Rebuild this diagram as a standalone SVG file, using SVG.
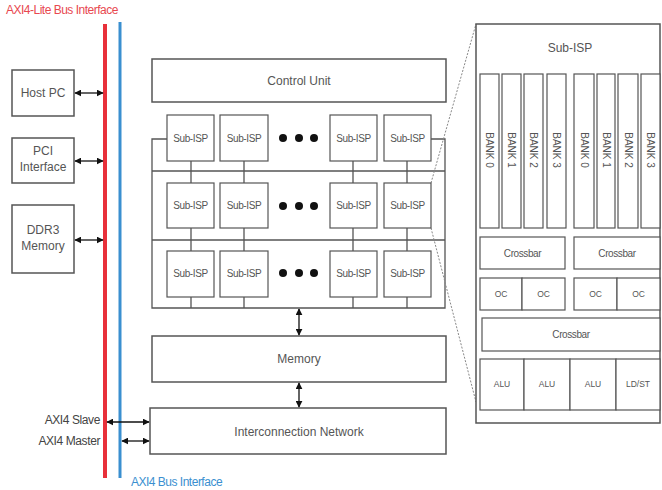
<svg xmlns="http://www.w3.org/2000/svg" width="662" height="490" viewBox="0 0 662 490">
<defs>
<marker id="ah" viewBox="0 0 10 10" refX="9" refY="5" markerWidth="7" markerHeight="7" markerUnits="userSpaceOnUse" orient="auto-start-reverse">
<path d="M0,0 L10,5 L0,10 z" fill="#111"/>
</marker>
<style>
.box{fill:#fff;stroke:#555;stroke-width:1.5}
.thin{fill:#fff;stroke:#555;stroke-width:1.2}
.ln{stroke:#555;stroke-width:1.3;fill:none}
.arr{stroke:#111;stroke-width:1.3;fill:none;marker-start:url(#ah);marker-end:url(#ah)}
.t{font-family:"Liberation Sans",Arial,sans-serif;fill:#555;text-anchor:middle}
.t12{font-size:12px}
.t10{font-size:10px;letter-spacing:-0.4px}
.t9{font-size:8.5px}
.tb{font-size:10px}
.dash{stroke:#888;stroke-width:1;stroke-dasharray:2,1.5;fill:none}
</style>
</defs>
<rect width="662" height="490" fill="#fff"/>

<!-- bus lines -->
<text x="6" y="14" font-family="Liberation Sans,Arial,sans-serif" font-size="12" fill="#e8484f" letter-spacing="-0.5">AXI4-Lite Bus Interface</text>
<line x1="105" y1="24" x2="105" y2="478" stroke="#e8303a" stroke-width="4"/>
<line x1="120" y1="22" x2="120" y2="478" stroke="#3a8fd0" stroke-width="3"/>
<text x="131" y="486" font-family="Liberation Sans,Arial,sans-serif" font-size="12" fill="#3a8fd0" letter-spacing="-0.5">AXI4 Bus Interface</text>
<text x="100" y="424" font-family="Liberation Sans,Arial,sans-serif" font-size="12" fill="#444" text-anchor="end" letter-spacing="-0.4">AXI4 Slave</text>
<text x="100" y="445" font-family="Liberation Sans,Arial,sans-serif" font-size="12" fill="#444" text-anchor="end" letter-spacing="-0.4">AXI4 Master</text>

<g id="host-pc"><rect class="box" x="12" y="70" width="62" height="46"/><text class="t t12" x="43" y="97">Host PC</text></g>
<g id="pci"><rect class="box" x="12" y="138" width="62" height="45"/><text class="t t12" x="43" y="155">PCI</text><text class="t t12" x="43" y="171">Interface</text></g>
<g id="ddr3"><rect class="box" x="12" y="205" width="62" height="68"/><text class="t t12" x="43" y="234">DDR3</text><text class="t t12" x="43" y="250">Memory</text></g>

<g id="control-unit"><rect class="box" x="152" y="59" width="294" height="43"/><text class="t t12" x="299" y="85">Control Unit</text></g>
<g id="memory"><rect class="box" x="152" y="336" width="294" height="46"/><text class="t t12" x="299" y="363">Memory</text></g>
<g id="interconnect"><rect class="box" x="150" y="408" width="296" height="46"/><text class="t t12" x="299" y="436">Interconnection Network</text></g>

<!-- connectors -->
<g id="connectors">
<line class="arr" x1="75" y1="93" x2="103" y2="93"/>
<line class="arr" x1="75" y1="161" x2="103" y2="161"/>
<line class="arr" x1="75" y1="240" x2="103" y2="240"/>
<line class="arr" x1="107" y1="422" x2="149" y2="422"/>
<line class="arr" x1="122" y1="441" x2="149" y2="441"/>
<line class="arr" x1="299" y1="309" x2="299" y2="335"/>
<line class="arr" x1="299" y1="383" x2="299" y2="407"/>
<!-- grid wiring -->
<path class="ln" d="M167,139 H152 V308 H445 V139 H431"/>
<line class="ln" x1="152" y1="171" x2="445" y2="171"/>
<line class="ln" x1="152" y1="240" x2="445" y2="240"/>
<path class="ln" d="M191,161 V183 M244,161 V183 M353,161 V183 M407,161 V183 M191,228 V251 M244,228 V251 M353,228 V251 M407,228 V251 M191,297 V308 M244,297 V308 M353,297 V308 M407,297 V308"/>
<line class="dash" x1="431" y1="183" x2="476" y2="24"/>
<line class="dash" x1="431" y1="228" x2="476" y2="402"/>
</g>

<!-- Sub-ISP grid -->
<g id="sub-isp-r1">
<rect class="thin" x="167" y="115" width="47" height="46"/><text class="t t10" x="190.5" y="142">Sub-ISP</text>
<rect class="thin" x="220" y="115" width="48" height="46"/><text class="t t10" x="244" y="142">Sub-ISP</text>
<rect class="thin" x="330" y="115" width="47" height="46"/><text class="t t10" x="353.5" y="142">Sub-ISP</text>
<rect class="thin" x="384" y="115" width="47" height="46"/><text class="t t10" x="407.5" y="142">Sub-ISP</text>
<circle cx="283" cy="138" r="4" fill="#111"/><circle cx="299" cy="138" r="4" fill="#111"/><circle cx="314" cy="138" r="4" fill="#111"/>
</g>
<g id="sub-isp-r2">
<rect class="thin" x="167" y="183" width="47" height="45"/><text class="t t10" x="190.5" y="209">Sub-ISP</text>
<rect class="thin" x="220" y="183" width="48" height="45"/><text class="t t10" x="244" y="209">Sub-ISP</text>
<rect class="thin" x="330" y="183" width="47" height="45"/><text class="t t10" x="353.5" y="209">Sub-ISP</text>
<rect class="thin" x="384" y="183" width="47" height="45"/><text class="t t10" x="407.5" y="209">Sub-ISP</text>
<circle cx="283" cy="206" r="4" fill="#111"/><circle cx="299" cy="206" r="4" fill="#111"/><circle cx="314" cy="206" r="4" fill="#111"/>
</g>
<g id="sub-isp-r3">
<rect class="thin" x="167" y="251" width="47" height="46"/><text class="t t10" x="190.5" y="277">Sub-ISP</text>
<rect class="thin" x="220" y="251" width="48" height="46"/><text class="t t10" x="244" y="277">Sub-ISP</text>
<rect class="thin" x="330" y="251" width="47" height="46"/><text class="t t10" x="353.5" y="277">Sub-ISP</text>
<rect class="thin" x="384" y="251" width="47" height="46"/><text class="t t10" x="407.5" y="277">Sub-ISP</text>
<circle cx="283" cy="273" r="4" fill="#111"/><circle cx="299" cy="273" r="4" fill="#111"/><circle cx="314" cy="273" r="4" fill="#111"/>
</g>

<!-- Detail panel -->
<g id="sub-isp-detail">
<rect class="box" x="476" y="24" width="184" height="399"/>
<text class="t t12" x="570" y="52">Sub-ISP</text>
<rect class="thin" x="480" y="74" width="19" height="154"/>
<rect class="thin" x="502" y="74" width="19" height="154"/>
<rect class="thin" x="524" y="74" width="19" height="154"/>
<rect class="thin" x="547" y="74" width="19" height="154"/>
<rect class="thin" x="574" y="74" width="20" height="154"/>
<rect class="thin" x="597" y="74" width="18" height="154"/>
<rect class="thin" x="618" y="74" width="20" height="154"/>
<rect class="thin" x="641" y="74" width="19" height="154"/>
<text class="t tb" transform="translate(486,150) rotate(90)">BANK 0</text>
<text class="t tb" transform="translate(508,150) rotate(90)">BANK 1</text>
<text class="t tb" transform="translate(530,150) rotate(90)">BANK 2</text>
<text class="t tb" transform="translate(553,150) rotate(90)">BANK 3</text>
<text class="t tb" transform="translate(580.5,150) rotate(90)">BANK 0</text>
<text class="t tb" transform="translate(602.5,150) rotate(90)">BANK 1</text>
<text class="t tb" transform="translate(624.5,150) rotate(90)">BANK 2</text>
<text class="t tb" transform="translate(647,150) rotate(90)">BANK 3</text>
<rect class="thin" x="480" y="237" width="85" height="32"/><text class="t t10" x="522.5" y="257">Crossbar</text>
<rect class="thin" x="574" y="237" width="86" height="32"/><text class="t t10" x="617" y="257">Crossbar</text>
<rect class="thin" x="480" y="278" width="42" height="32"/><text class="t t9" x="501" y="297">OC</text>
<rect class="thin" x="522" y="278" width="43" height="32"/><text class="t t9" x="543.5" y="297">OC</text>
<rect class="thin" x="574" y="278" width="43" height="32"/><text class="t t9" x="595.5" y="297">OC</text>
<rect class="thin" x="617" y="278" width="43" height="32"/><text class="t t9" x="638.5" y="297">OC</text>
<rect class="thin" x="482" y="318" width="178" height="33"/><text class="t t10" x="571" y="338">Crossbar</text>
<rect class="thin" x="480" y="359" width="44" height="51"/><text class="t t9" x="502" y="387">ALU</text>
<rect class="thin" x="524" y="359" width="46" height="51"/><text class="t t9" x="547" y="387">ALU</text>
<rect class="thin" x="570" y="359" width="46" height="51"/><text class="t t9" x="593" y="387">ALU</text>
<rect class="thin" x="616" y="359" width="44" height="51"/><text class="t t9" x="638" y="387">LD/ST</text>
</g>
</svg>
